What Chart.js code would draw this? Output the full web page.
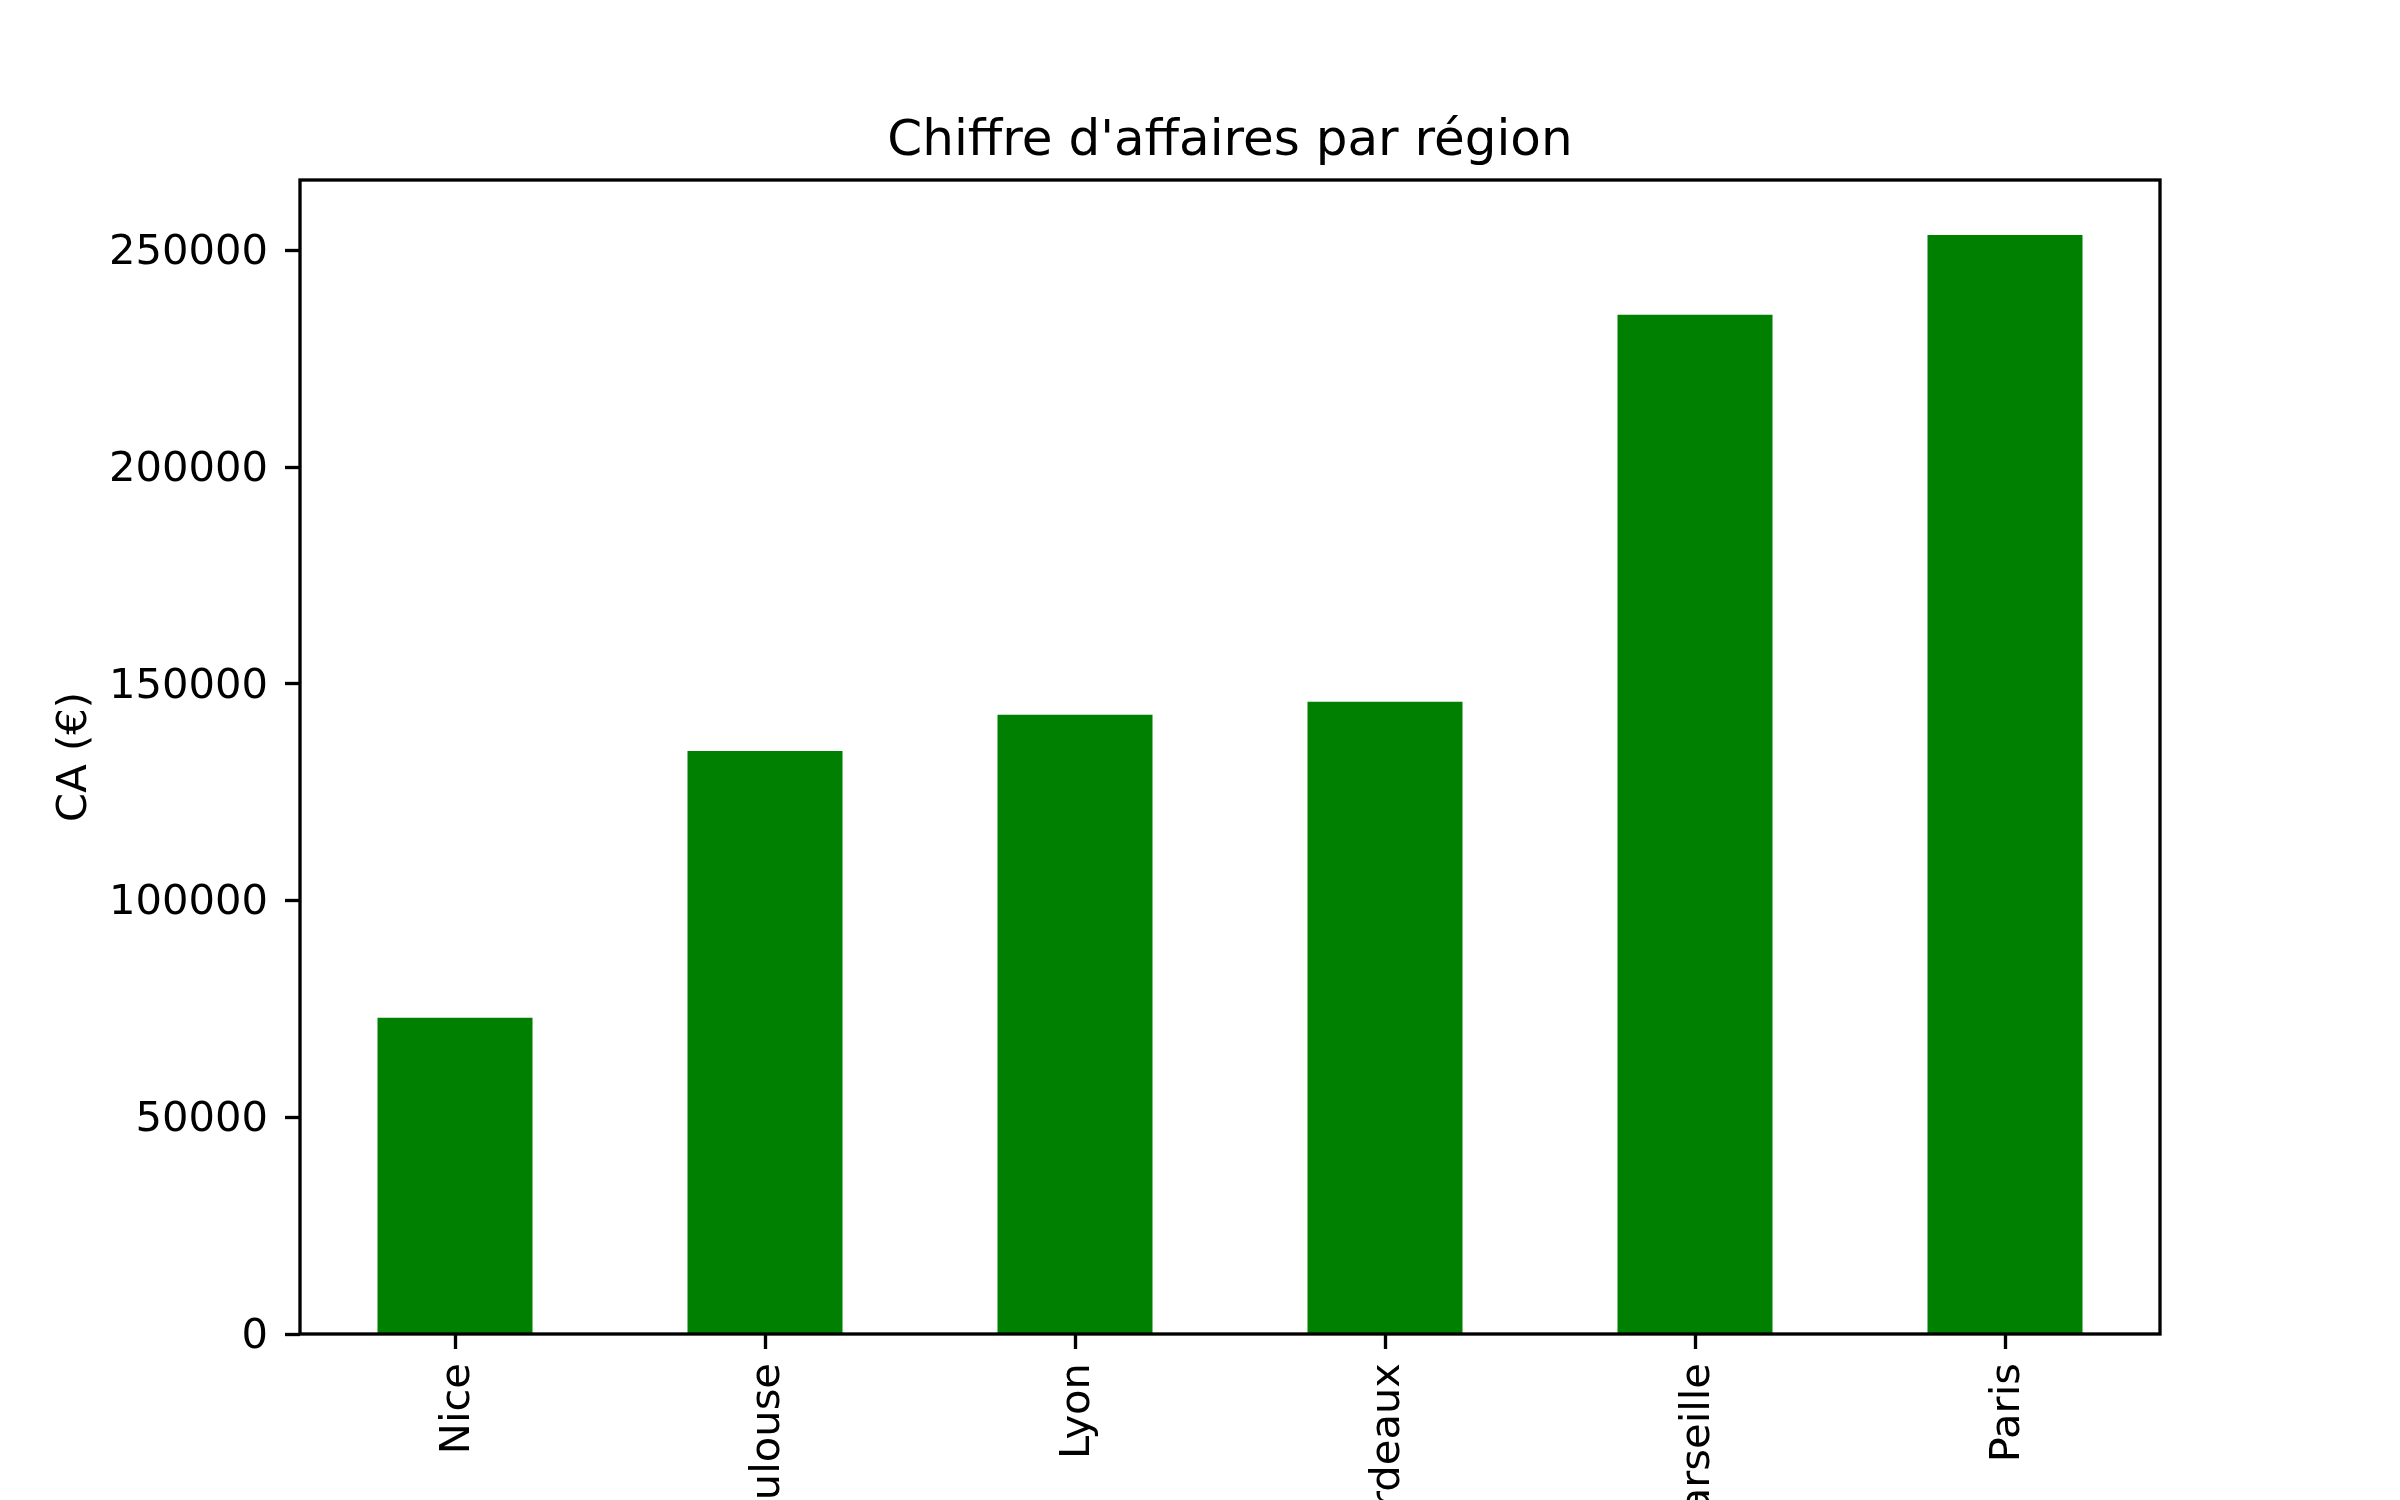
<!DOCTYPE html>
<html>
<head>
<meta charset="utf-8">
<script src="https://cdn.jsdelivr.net/npm/chart.js@4/dist/chart.umd.min.js"></script>
<style>
  html, body { margin: 0; padding: 0; background: #fff; width: 2400px; height: 1500px; overflow: hidden; }
  #wrap { position: absolute; left: 0; top: 0; width: 2400px; height: 1700px; }
</style>
</head>
<body>
<div id="wrap"><canvas id="c" width="2400" height="1700"></canvas></div>
<script>
const categories = ["Nice", "Toulouse", "Lyon", "Bordeaux", "Marseille", "Paris"];
const revenue = [73000, 134500, 142900, 145900, 235200, 253600];
const yTicks = [0, 50000, 100000, 150000, 200000, 250000];
const chartTitle = "Chiffre d'affaires par région";
const yLabel = "CA (€)";

const FONT = "'DejaVu Sans', sans-serif";
const AREA = { left: 300, right: 2160, top: 180, bottom: 1334 };
const CANVAS_H = 1700;

const framePlugin = {
  id: 'frame',
  afterDatasetsDraw(chart) {
    const { ctx, chartArea: a } = chart;
    ctx.save();
    ctx.strokeStyle = '#000';
    ctx.lineWidth = 3.33;
    ctx.strokeRect(a.left, a.top, a.right - a.left, a.bottom - a.top);
    ctx.restore();
  }
};

const yMax = Math.max(...revenue) * 1.05;

new Chart(document.getElementById('c'), {
  type: 'bar',
  data: {
    labels: categories,
    datasets: [{
      data: revenue,
      backgroundColor: '#008000',
      borderWidth: 0,
      barPercentage: 0.5,
      categoryPercentage: 1.0
    }]
  },
  options: {
    responsive: false,
    animation: false,
    devicePixelRatio: 1,
    layout: { padding: { left: 0, right: 2400 - AREA.right, top: 0, bottom: 0 } },
    plugins: {
      legend: { display: false },
      tooltip: { enabled: false },
      title: {
        display: true,
        fullSize: false,
        text: chartTitle,
        color: '#000',
        font: { family: FONT, size: 50, weight: 'normal', lineHeight: 1.2 },
        padding: { top: 112, bottom: 8 }
      }
    },
    scales: {
      x: {
        type: 'category',
        offset: true,
        grid: { display: true, drawOnChartArea: false, offset: false, tickLength: 15, tickWidth: 3.33, tickColor: '#000' },
        border: { display: false },
        ticks: {
          color: '#000',
          font: { family: FONT, size: 41.67 },
          minRotation: 90, maxRotation: 90,
          autoSkip: false,
          padding: 14,
          labelOffset: 3
        },
        afterFit(scale) { scale.height = CANVAS_H - AREA.bottom; }
      },
      y: {
        type: 'linear',
        min: 0,
        max: yMax,
        afterBuildTicks(scale) { scale.ticks = yTicks.map(v => ({ value: v })); },
        grid: { display: true, drawOnChartArea: false, tickLength: 15, tickWidth: 3.33, tickColor: '#000' },
        border: { display: false },
        ticks: {
          color: '#000',
          font: { family: FONT, size: 41.67 },
          padding: 17,
          labelOffset: 3,
          callback: v => String(v)
        },
        title: {
          display: true,
          text: yLabel,
          color: '#000',
          font: { family: FONT, size: 41.67, lineHeight: 1.2 },
          padding: { top: 50, bottom: 0 }
        },
        afterFit(scale) { scale.width = AREA.left; }
      }
    }
  },
  plugins: [framePlugin]
});
</script>
</body>
</html>
